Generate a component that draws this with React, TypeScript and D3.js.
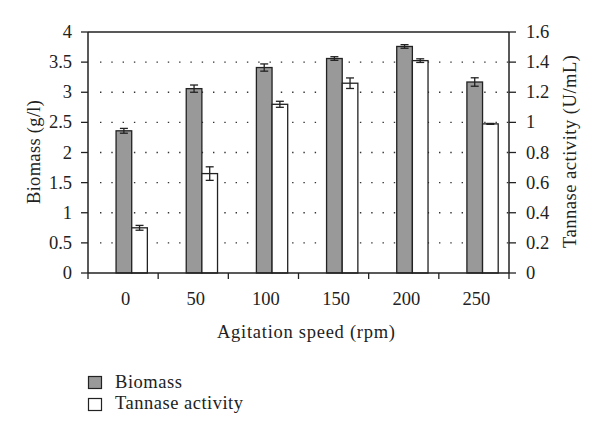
import React from "react";
import * as d3 from "d3";

const categories = ["0", "50", "100", "150", "200", "250"];
const biomass = [2.36, 3.06, 3.41, 3.56, 3.76, 3.17];
const biomassErr = [0.04, 0.06, 0.06, 0.03, 0.03, 0.07];
const tannase = [0.30, 0.66, 1.12, 1.26, 1.41, 0.99];
const tannaseErr = [0.016, 0.045, 0.02, 0.035, 0.012, 0.003];
const leftTicks = [0, 0.5, 1, 1.5, 2, 2.5, 3, 3.5, 4];
const rightTicks = [0, 0.2, 0.4, 0.6, 0.8, 1, 1.2, 1.4, 1.6];

const W = 600, H = 436;
const L = 88, R = 509, T = 32, B = 273;
const INK = "#222";
const TS = { fontFamily: '"Liberation Serif"' };

export default function App() {
  const x = d3.scaleBand<string>().domain(categories).range([L, R]).padding(0);
  const yL = d3.scaleLinear().domain([0, 4]).range([B, T]);
  const yR = d3.scaleLinear().domain([0, 1.6]).range([B, T]);
  const bw = x.bandwidth();
  const barW = bw * 0.223;
  const off = bw * 0.4;
  const cap = 4;
  const fs = 18.5;

  const errBar = (cx: number, v: number, e: number, y: d3.ScaleLinear<number, number>, key: string) => (
    <g key={key} stroke={INK} strokeWidth={1.3}>
      <line x1={cx} x2={cx} y1={y(v + e)} y2={y(v - e)} />
      <line x1={cx - cap} x2={cx + cap} y1={y(v + e)} y2={y(v + e)} />
      <line x1={cx - cap} x2={cx + cap} y1={y(v - e)} y2={y(v - e)} />
    </g>
  );

  return (
    <svg width={W} height={H} style={{ position: "absolute", left: 0, top: 0, background: "#fff" }}>
      <rect width={W} height={H} fill="#fff" />
      {leftTicks.filter((t) => t > 0 && t < 4).map((t) => (
        <line key={"g" + t} x1={L + 12} x2={R} y1={yL(t)} y2={yL(t)} stroke="#333" strokeWidth={1.4} strokeDasharray="1.4,9.9" />
      ))}
      {categories.map((c, i) => {
        const x0 = (x(c) as number) + off;
        return (
          <g key={"b" + c}>
            <rect x={x0} y={yL(biomass[i])} width={barW} height={B - yL(biomass[i])} fill="#999" stroke={INK} strokeWidth={1.3} />
            <rect x={x0 + barW} y={yR(tannase[i])} width={barW} height={B - yR(tannase[i])} fill="#fff" stroke={INK} strokeWidth={1.3} />
            {errBar(x0 + barW / 2, biomass[i], biomassErr[i], yL, "eb" + c)}
            {errBar(x0 + barW * 1.5, tannase[i], tannaseErr[i], yR, "et" + c)}
          </g>
        );
      })}
      <g stroke={INK} strokeWidth={1.5} fill="none">
        <line x1={L} x2={R} y1={T} y2={T} />
        <line x1={L} x2={L} y1={T} y2={B} />
        <line x1={R} x2={R} y1={T} y2={B} />
        <line x1={L} x2={R} y1={B} y2={B} />
      </g>
      {leftTicks.map((t) => (
        <g key={"l" + t}>
          <line x1={L - 7} x2={L} y1={yL(t)} y2={yL(t)} stroke={INK} strokeWidth={1.3} />
          <text style={TS} x={72} y={yL(t)} dy="0.33em" textAnchor="end" fontSize={fs} fill={INK}>{t}</text>
        </g>
      ))}
      {rightTicks.map((t) => (
        <g key={"r" + t}>
          <line x1={R} x2={R + 7} y1={yR(t)} y2={yR(t)} stroke={INK} strokeWidth={1.3} />
          <text style={TS} x={R + 17} y={yR(t)} dy="0.33em" textAnchor="start" fontSize={fs} fill={INK}>{t}</text>
        </g>
      ))}
      {[...categories.map((c) => x(c) as number), R].map((px, i) => (
        <line key={"xt" + i} x1={px} x2={px} y1={B} y2={B + 6} stroke={INK} strokeWidth={1.3} />
      ))}
      {categories.map((c) => (
        <text style={TS} key={"xl" + c} x={(x(c) as number) + bw / 2 + 2.5} y={305} textAnchor="middle" fontSize={fs} fill={INK}>{c}</text>
      ))}
      <text style={TS} x={306} y={338} textAnchor="middle" fontSize={fs} fill={INK} textLength={178} lengthAdjust="spacing">Agitation speed (rpm)</text>
      <text style={TS} transform={`translate(33.5,152) rotate(-90)`} dy="0.33em" textAnchor="middle" fontSize={fs} fill={INK} textLength={104} lengthAdjust="spacing">Biomass (g/l)</text>
      <text style={TS} transform={`translate(570,151.5) rotate(-90)`} dy="0.33em" textAnchor="middle" fontSize={fs} fill={INK} textLength={193} lengthAdjust="spacing">Tannase activity (U/mL)</text>
      <rect x={88.5} y={376.5} width={13} height={12} fill="#999" stroke={INK} strokeWidth={1.2} />
      <rect x={88.5} y={398.5} width={13} height={12} fill="#fff" stroke={INK} strokeWidth={1.2} />
      <text style={TS} x={115} y={388} fontSize={fs} fill={INK} textLength={67} lengthAdjust="spacing">Biomass</text>
      <text style={TS} x={115} y={409} fontSize={fs} fill={INK} textLength={128} lengthAdjust="spacing">Tannase activity</text>
    </svg>
  );
}
